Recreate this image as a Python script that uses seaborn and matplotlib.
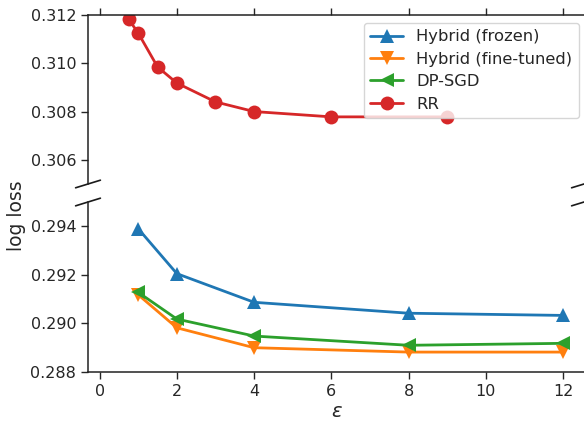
import numpy as np
import pandas as pd
import matplotlib
matplotlib.use("Agg")
import matplotlib.pyplot as plt
import seaborn as sns

sns.set_theme(style="ticks")
plt.rcParams["font.family"] = ["DejaVu Sans"]

# Privacy budgets and log-loss values per method
eps_hybrid = [1, 2, 4, 8, 12]
hybrid_frozen = [0.29390, 0.29205, 0.29087, 0.29042, 0.29033]
hybrid_finetuned = [0.29118, 0.28982, 0.28900, 0.28882, 0.28882]
dp_sgd = [0.29128, 0.29018, 0.28948, 0.28910, 0.28918]
eps_rr = [0.75, 1, 1.5, 2, 3, 4, 6, 9]
rr = [0.31183, 0.31125, 0.30985, 0.30918, 0.30840, 0.30800, 0.30778, 0.30778]

x_ticks = [0, 2, 4, 6, 8, 10, 12]
top_yticks = [0.306, 0.308, 0.310, 0.312]
bottom_yticks = [0.288, 0.290, 0.292, 0.294]

series = [
    ("Hybrid (frozen)", eps_hybrid, hybrid_frozen, "#1f77b4", "^"),
    ("Hybrid (fine-tuned)", eps_hybrid, hybrid_finetuned, "#ff7f0e", "v"),
    ("DP-SGD", eps_hybrid, dp_sgd, "#2ca02c", "<"),
    ("RR", eps_rr, rr, "#d62728", "o"),
]

fig = plt.figure(figsize=(5.84, 4.22), dpi=100)
ax_top = fig.add_axes([0.1507, 0.5640, 0.8493, 0.4005])
ax_bot = fig.add_axes([0.1507, 0.1185, 0.8493, 0.4028])

for ax in (ax_top, ax_bot):
    for name, xs, ys, color, marker in series:
        df = pd.DataFrame({"eps": xs, "loss": ys})
        sns.lineplot(data=df, x="eps", y="loss", ax=ax, color=color,
                     marker=marker, markersize=10, markeredgewidth=0,
                     linewidth=2, label=name, legend=False)
    ax.set_xlim(-0.3, 12.54)
    ax.set_xticks(x_ticks)
    ax.set_xlabel("")
    ax.set_ylabel("")
    ax.tick_params(labelsize=11.5, length=5, width=1)
    for s in ax.spines.values():
        s.set_linewidth(1.1)
        s.set_color("#222222")

ax_top.set_ylim(0.305, 0.312)
ax_top.set_yticks(top_yticks)
ax_top.set_yticklabels([f"{v:.3f}" for v in top_yticks])
ax_top.spines["bottom"].set_visible(False)
ax_top.spines["right"].set_visible(False)
ax_top.xaxis.tick_top()
ax_top.tick_params(axis="x", labeltop=False)

ax_bot.set_ylim(0.288, 0.295)
ax_bot.set_yticks(bottom_yticks)
ax_bot.set_yticklabels([f"{v:.3f}" for v in bottom_yticks])
ax_bot.spines["top"].set_visible(False)
ax_bot.spines["right"].set_visible(False)
ax_bot.set_xticklabels([str(v) for v in x_ticks])

# Diagonal break marks between the two panels
d = 0.025
kw = dict(color="k", clip_on=False, linewidth=1.2)
ax_top.plot((-d, d), (-d * 0.9, d * 0.9), transform=ax_top.transAxes, **kw)
ax_top.plot((1 - d, 1 + d), (-d * 0.9, d * 0.9), transform=ax_top.transAxes, **kw)
ax_bot.plot((-d, d), (1 - d * 0.9, 1 + d * 0.9), transform=ax_bot.transAxes, **kw)
ax_bot.plot((1 - d, 1 + d), (1 - d * 0.9, 1 + d * 0.9), transform=ax_bot.transAxes, **kw)

ax_top.legend(loc="upper right", bbox_to_anchor=(0.99, 0.953), borderaxespad=0,
              fontsize=11.8, framealpha=0.8, handlelength=2.0, borderpad=0.4,
              labelspacing=0.45, handletextpad=0.8)

fig.text(0.028, 0.49, "log loss", rotation=90, ha="center", va="center", fontsize=13.5)
fig.text(0.577, 0.003, r"$\varepsilon$", ha="center", va="bottom", fontsize=14)

fig.savefig("out.png", dpi=100)
